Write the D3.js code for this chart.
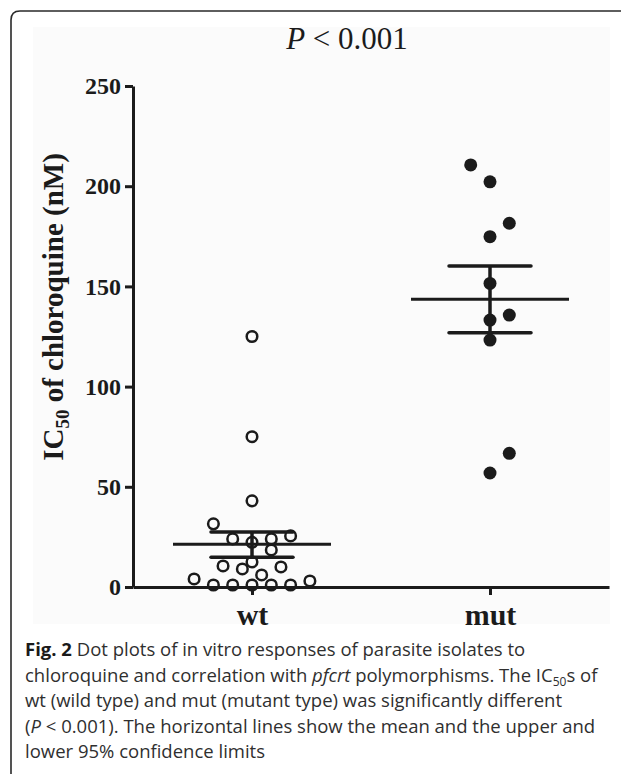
<!DOCTYPE html>
<html>
<head>
<meta charset="utf-8">
<script src="https://cdn.jsdelivr.net/npm/d3@7"></script>
<style>
  body { margin: 0; background: #fff; }
  #chart-area { width: 621px; height: 774px; }
</style>
</head>
<body>
<div id="chart-area"></div>
<script>

// groups on the x axis
const groups = ["wt", "mut"];

// IC50 values (nM), with the column slot each dot sits in
const wtValues = [125, 75, 43, 31.5, 25.5, 24, 22.3, 24, 18.5, 12.5, 10.5, 9, 6, 10, 4, 1, 1, 1, 1, 1, 3];
const wtSlots  = [0, 0, 0, -2, 2, -1, 0, 1, 1, 0, -1.5, -0.5, 0.5, 1.5, -3, -2, -1, 0, 1, 2, 3];

const mutValues = [210.6, 202.2, 181.5, 174.8, 151.5, 135.7, 133.2, 123.2, 66.7, 56.9];
const mutSlots  = [-1, 0, 1, 0, 0, 1, 0, 0, 1, 0];

// mean and 95% confidence limits
const groupMeans   = [21.3, 143.6];
const groupUpper95 = [27.5, 160.2];
const groupLower95 = [14.8, 126.9];

const yTicks = [0, 50, 100, 150, 200, 250];

const serif = "'Liberation Serif', 'Times New Roman', serif";
const ink = "#1b1b1b";

class DotPlotVis {
  constructor(parentElement) {
    this.parentElement = parentElement;
    this.initVis();
  }

  initVis() {
    let vis = this;

    vis.margin = { top: 86, right: 12, bottom: 187, left: 133 };
    vis.width = 621 - vis.margin.left - vis.margin.right;
    vis.height = 774 - vis.margin.top - vis.margin.bottom;

    vis.root = d3.select("#" + vis.parentElement)
      .append("svg")
      .attr("width", 621)
      .attr("height", 774);

    // faint figure background + frame
    vis.root.append("rect")
      .attr("x", 33).attr("y", 27)
      .attr("width", 577).attr("height", 597)
      .attr("fill", "#fbfbfb");

    vis.root.append("path")
      .attr("d", "M11,774 L11,20 Q11,11 20,11 L621,11")
      .attr("fill", "none")
      .attr("stroke", "#2a2a2a")
      .attr("stroke-width", 1.6);

    vis.svg = vis.root.append("g")
      .attr("transform", `translate(${vis.margin.left}, ${vis.margin.top})`);

    vis.x = d3.scalePoint().domain(groups).range([0, vis.width]).padding(0.5);
    vis.y = d3.scaleLinear().domain([0, 250]).range([vis.height, 0]);
    vis.slot = d3.scaleLinear().domain([-1, 1]).range([-19.3, 19.3]);

    vis.yAxis = d3.axisLeft(vis.y).tickValues(yTicks).tickSize(8).tickSizeOuter(0).tickPadding(4);
    vis.xAxis = d3.axisBottom(vis.x).tickSize(8).tickSizeOuter(0).tickPadding(9);

    // title
    let title = vis.root.append("text")
      .attr("x", 347).attr("y", 49)
      .attr("text-anchor", "middle")
      .style("font-family", serif)
      .style("font-size", "31px")
      .attr("fill", ink);
    title.append("tspan").style("font-style", "italic").text("P");
    title.append("tspan").text(" < 0.001");

    // y axis label
    let ylab = vis.root.append("text")
      .attr("transform", "translate(63, 307) rotate(-90)")
      .attr("text-anchor", "middle")
      .style("font-family", serif)
      .style("font-size", "29px")
      .style("font-weight", "bold")
      .attr("fill", ink);
    ylab.append("tspan").text("IC");
    ylab.append("tspan").attr("dy", 6).style("font-size", "19px").text("50");
    ylab.append("tspan").attr("dy", -6).text(" of chloroquine (nM)");

    this.wrangleData();
  }

  wrangleData() {
    let vis = this;

    vis.displayData = [];
    wtValues.forEach((v, i) => vis.displayData.push({ group: "wt", value: v, slot: wtSlots[i], filled: false }));
    mutValues.forEach((v, i) => vis.displayData.push({ group: "mut", value: v, slot: mutSlots[i], filled: true }));

    vis.summary = groups.map((g, i) => ({
      group: g, mean: groupMeans[i], upper: groupUpper95[i], lower: groupLower95[i]
    }));

    vis.updateVis();
  }

  updateVis() {
    let vis = this;

    // axes
    let ya = vis.svg.append("g").attr("class", "y-axis axis").call(vis.yAxis);
    let xa = vis.svg.append("g").attr("class", "x-axis axis")
      .attr("transform", "translate(0," + vis.height + ")")
      .call(vis.xAxis);

    [ya, xa].forEach(a => {
      a.selectAll("path, line").attr("stroke", ink).attr("stroke-width", 3);
      a.selectAll("text")
        .attr("fill", ink)
        .style("font-family", serif)
        .style("font-weight", "bold");
    });
    ya.selectAll("text").style("font-size", "24px");
    xa.selectAll("text").style("font-size", "30px");

    // dots
    vis.svg.selectAll("circle.dot")
      .data(vis.displayData)
      .enter()
      .append("circle")
      .attr("class", "dot")
      .attr("cx", d => vis.x(d.group) + vis.slot(d.slot))
      .attr("cy", d => vis.y(d.value))
      .attr("r", d => d.filled ? 6.5 : 5.3)
      .attr("fill", d => d.filled ? ink : "none")
      .attr("stroke", ink)
      .attr("stroke-width", d => d.filled ? 0 : 2.5);

    // mean + 95% CI
    let stats = vis.svg.selectAll("g.stat")
      .data(vis.summary)
      .enter()
      .append("g")
      .attr("class", "stat")
      .attr("transform", d => `translate(${vis.x(d.group)},0)`);

    stats.append("line")
      .attr("x1", 0).attr("x2", 0)
      .attr("y1", d => vis.y(d.upper))
      .attr("y2", d => vis.y(d.lower))
      .attr("stroke", ink).attr("stroke-width", 3.5);

    stats.append("line")
      .attr("x1", -79).attr("x2", 79)
      .attr("y1", d => vis.y(d.mean))
      .attr("y2", d => vis.y(d.mean))
      .attr("stroke", ink).attr("stroke-width", 3);

    ["upper", "lower"].forEach(k => {
      stats.append("line")
        .attr("x1", -41).attr("x2", 41)
        .attr("y1", d => vis.y(d[k]))
        .attr("y2", d => vis.y(d[k]))
        .attr("stroke", ink).attr("stroke-width", 3.5)
        .attr("stroke-linecap", "round");
    });

    vis.drawCaption();
  }

  drawCaption() {
    let vis = this;

    let lines = [
      [["b", "Fig. 2"], ["", " Dot plots of in vitro responses of parasite isolates to"]],
      [["", "chloroquine and correlation with "], ["i", "pfcrt"], ["", " polymorphisms. The IC"], ["sub", "50"], ["up", "s of"]],
      [["", "wt (wild type) and mut (mutant type) was significantly different"]],
      [["", "("], ["i", "P"], ["", " < 0.001). The horizontal lines show the mean and the upper and"]],
      [["", "lower 95% confidence limits"]]
    ];

    let cap = vis.root.append("g")
      .style("font-family", "'Open Sans', 'Noto Sans', sans-serif")
      .style("font-size", "18.5px")
      .attr("fill", "#2f2f2f");

    lines.forEach((parts, i) => {
      let t = cap.append("text").attr("x", 25).attr("y", 656 + i * 25.5);
      parts.forEach(p => {
        let s = t.append("tspan").text(p[1]);
        if (p[0] === "b") s.style("font-weight", "bold").attr("fill", "#1a1a1a");
        if (p[0] === "i") s.style("font-style", "italic");
        if (p[0] === "sub") s.attr("dy", 4).style("font-size", "12px");
        if (p[0] === "up") s.attr("dy", -4);
      });
    });
  }
}

new DotPlotVis("chart-area");
</script>
</body>
</html>
